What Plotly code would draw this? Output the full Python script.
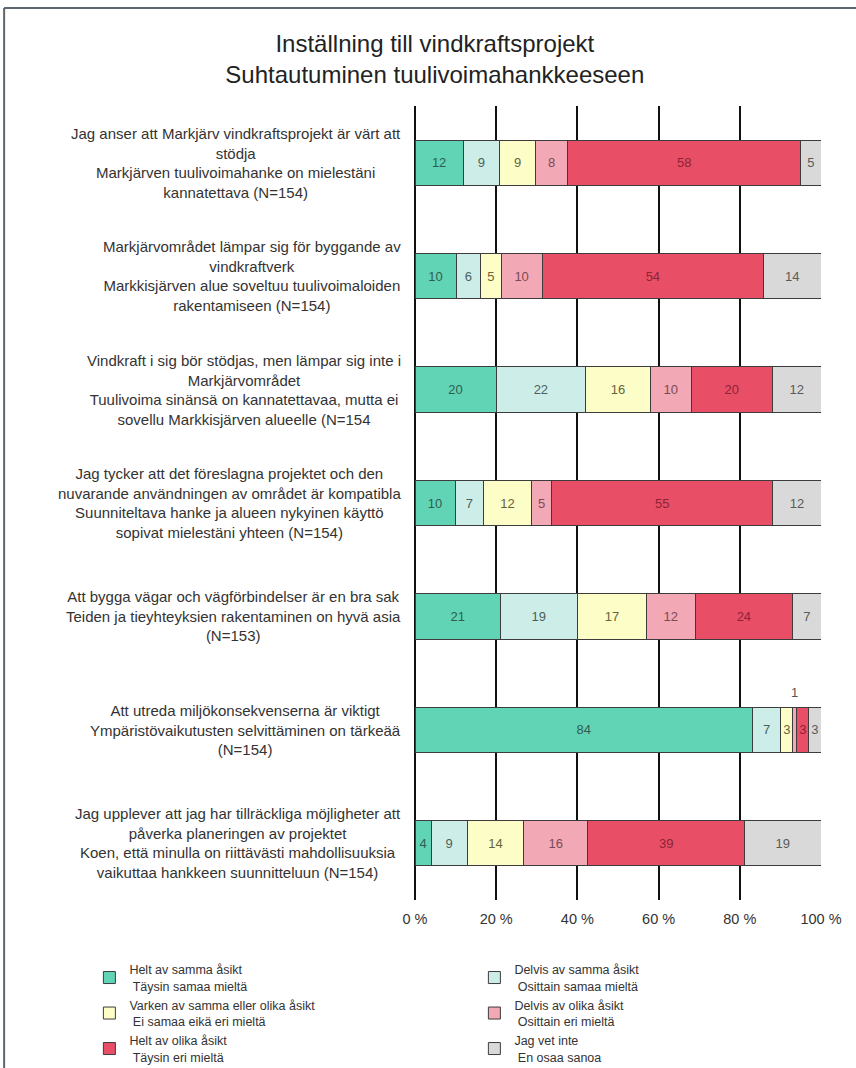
import plotly.graph_objects as go

categories = [
    "Jag anser att Markjärv vindkraftsprojekt är värt att<br>stödja<br>Markjärven tuulivoimahanke on mielestäni<br>kannatettava (N=154)",
    "Markjärvområdet lämpar sig för byggande av<br>vindkraftverk<br>Markkisjärven alue soveltuu tuulivoimaloiden<br>rakentamiseen (N=154)",
    "Vindkraft i sig bör stödjas, men lämpar sig inte i<br>Markjärvområdet<br>Tuulivoima sinänsä on kannatettavaa, mutta ei<br>sovellu Markkisjärven alueelle (N=154",
    "Jag tycker att det föreslagna projektet och den<br>nuvarande användningen av området är kompatibla<br>Suunniteltava hanke ja alueen nykyinen käyttö<br>sopivat mielestäni yhteen (N=154)",
    "Att bygga vägar och vägförbindelser är en bra sak<br>Teiden ja tieyhteyksien rakentaminen on hyvä asia<br>(N=153)",
    "Att utreda miljökonsekvenserna är viktigt<br>Ympäristövaikutusten selvittäminen on tärkeää<br>(N=154)",
    "Jag upplever att jag har tillräckliga möjligheter att<br>påverka planeringen av projektet<br>Koen, että minulla on riittävästi mahdollisuuksia<br>vaikuttaa hankkeen suunnitteluun (N=154)",
]

series_names = [
    "Helt av samma åsikt<br> Täysin samaa mieltä",
    "Delvis av samma åsikt<br> Osittain samaa mieltä",
    "Varken av samma eller olika åsikt<br> Ei samaa eikä eri mieltä",
    "Delvis av olika åsikt<br> Osittain eri mieltä",
    "Helt av olika åsikt<br> Täysin eri mieltä",
    "Jag vet inte<br> En osaa sanoa",
]

helt_samma = [12, 10, 20, 10, 21, 84, 4]
delvis_samma = [9, 6, 22, 7, 19, 7, 9]
varken = [9, 5, 16, 12, 17, 3, 14]
delvis_olika = [8, 10, 10, 5, 12, 1, 16]
helt_olika = [58, 54, 20, 55, 24, 3, 39]
vet_inte = [5, 14, 12, 12, 7, 3, 19]

series_values = [helt_samma, delvis_samma, varken, delvis_olika, helt_olika, vet_inte]

x_tickvals = [0, 20, 40, 60, 80, 100]
x_ticktext = ["0 %", "20 %", "40 %", "60 %", "80 %", "100 %"]

colors = ["#60d4b5", "#cdeee8", "#fdfdc8", "#f3a8b6", "#e94e67", "#d9d9d9"]
text_colors = ["#2f5e51", "#4d5e5b", "#66663a", "#7a4b55", "#8c2436", "#5a5a5a"]

FONT = "Liberation Sans, Arial, sans-serif"

fig = go.Figure()
for name, vals, col, tcol in zip(series_names, series_values, colors, text_colors):
    texts = []
    for i, v in enumerate(vals):
        row_total = sum(s[i] for s in series_values)
        # very narrow segment: label drawn above the bar instead
        texts.append("" if v / row_total < 0.02 else str(v))
    fig.add_trace(go.Bar(
        y=categories, x=vals, name=name, orientation="h",
        marker=dict(color=col, line=dict(color="#3c3c3c", width=1)),
        text=texts, textposition="inside", insidetextanchor="middle",
        textangle=0, textfont=dict(family=FONT, size=13, color=tcol),
        cliponaxis=False,
    ))

annotations = []
# labels for segments too narrow to hold their number
for si, vals in enumerate(series_values):
    for i, v in enumerate(vals):
        row_total = sum(s[i] for s in series_values)
        if v / row_total < 0.02:
            before = sum(series_values[k][i] for k in range(si))
            xpos = (before + v / 2) / row_total * 100
            annotations.append(dict(
                x=xpos, y=categories[i], xref="x", yref="y", text=str(v),
                showarrow=False, yshift=37,
                font=dict(family=FONT, size=13, color="#555555")))

# category labels, centred line by line
for c in categories:
    annotations.append(dict(
        x=-0.03, y=c, xref="paper", yref="y", xanchor="right", yanchor="middle",
        text=c, align="center", showarrow=False,
        font=dict(family=FONT, size=15, color="#333333")))

fig.update_layout(
    width=856, height=1068,
    margin=dict(l=415, r=35, t=106, b=168, autoexpand=False),
    paper_bgcolor="white", plot_bgcolor="white",
    barmode="stack", barnorm="percent", bargap=0.6,
    title=dict(
        text="Inställning till vindkraftsprojekt<br>Suhtautuminen tuulivoimahankkeeseen",
        x=0.508, xanchor="center", y=1 - 52 / 1068, yanchor="middle",
        font=dict(family="Liberation Sans Narrow, Liberation Sans, Arial", size=24, color="#222222")),
    xaxis=dict(
        range=[0, 100.0001], tickvals=x_tickvals, ticktext=x_ticktext,
        showgrid=True, gridcolor="#111111", gridwidth=1.5,
        zeroline=True, zerolinecolor="#111111", zerolinewidth=1.5,
        showline=False, ticks="", ticklabelstandoff=8,
        tickfont=dict(family=FONT, size=14.5, color="#333333"),
    ),
    yaxis=dict(
        autorange="reversed", showticklabels=False, showgrid=False,
        zeroline=False, showline=False, ticks="",
    ),
    legend=dict(
        orientation="h", x=-0.802, xanchor="left", y=-0.069, yanchor="top",
        entrywidth=340, entrywidthmode="pixels", traceorder="normal",
        font=dict(family=FONT, size=12.5, color="#333333"),
        itemwidth=30, tracegroupgap=0, bgcolor="rgba(0,0,0,0)",
    ),
    uniformtext=dict(minsize=13, mode="show"),
    annotations=annotations,
    shapes=[
        dict(type="line", xref="paper", yref="paper", x0=-1.012, x1=1.2, y0=1.1235, y1=1.1235,
             line=dict(color="#5b6670", width=2)),
        dict(type="line", xref="paper", yref="paper", x0=-1.012, x1=-1.012, y0=1.1235, y1=-0.3,
             line=dict(color="#5b6670", width=2)),
    ],
)

fig.write_html("out.html")
